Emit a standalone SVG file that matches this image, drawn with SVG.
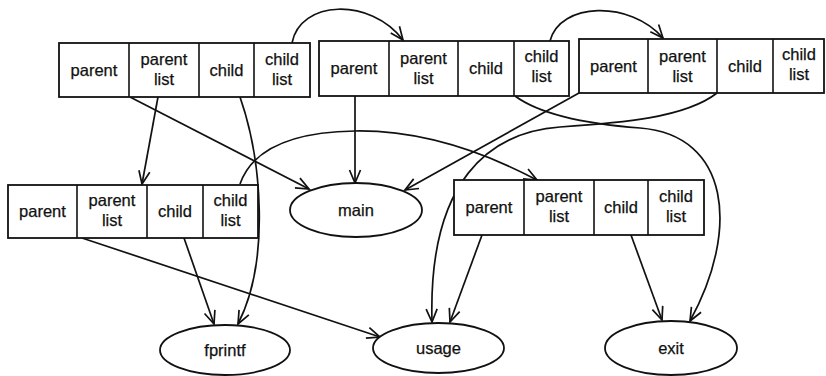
<svg xmlns="http://www.w3.org/2000/svg" width="826" height="376" viewBox="0 0 826 376">
  <defs>
    <style>
      .box { fill: #fff; stroke: #111; stroke-width: 1.8; }
      .div { stroke: #111; stroke-width: 1.6; }
      .ell { fill: #fff; stroke: #111; stroke-width: 1.8; }
      .lbl { font-family: "Liberation Sans", Arial, sans-serif; font-size: 16.5px; fill: #111; stroke: #111; stroke-width: 0.25; text-anchor: middle; }
      .edge { fill: none; stroke: #111; stroke-width: 1.7; marker-end: url(#arr); }
    </style>
    <marker id="arr" markerUnits="userSpaceOnUse" markerWidth="16" markerHeight="14" viewBox="-14 -7 16 14" refX="0" refY="0" orient="auto">
      <path d="M-13,-5.5 L0,0 L-13,5.5" fill="none" stroke="#111" stroke-width="1.7"/>
    </marker>
  </defs>
  <rect width="826" height="376" fill="#fff"/>

  <!-- connectors -->
  <g id="connectors">
    <!-- record 1 -->
    <path class="edge" d="M292,43 C300,0 370,-3 403,40"/>
    <path class="edge" d="M158,97 L142,184"/>
    <path class="edge" d="M130,97 L309,189"/>
    <path class="edge" d="M240,97 C262,160 270,262 238,324"/>
    <!-- record 2 -->
    <path class="edge" d="M355,96 L355,183"/>
    <path class="edge" d="M550,41 C560,2 630,0 663,38"/>
    <path class="edge" d="M515,96 C545,118 600,125 640,128 C730,135 740,230 690,321"/>
    <!-- record 3 -->
    <path class="edge" d="M579,93 L405,190"/>
    <path class="edge" d="M717,93 C685,118 620,123 560,127 C490,132 428,180 432,322"/>
    <!-- record 4 -->
    <path class="edge" d="M240,184 C252,150 290,132 355,131 C420,130 480,150 537,180"/>
    <path class="edge" d="M184,238 L214,324"/>
    <path class="edge" d="M82,238 L380,337"/>
    <!-- record 5 -->
    <path class="edge" d="M482,235 L450,322"/>
    <path class="edge" d="M631,235 L662,320"/>
  </g>

  <!-- record nodes -->
  <g id="rec1">
    <rect class="box" x="59" y="43" width="251" height="54"/>
    <line class="div" x1="129" y1="43" x2="129" y2="97"/>
    <line class="div" x1="199" y1="43" x2="199" y2="97"/>
    <line class="div" x1="254" y1="43" x2="254" y2="97"/>
    <text class="lbl" x="94" y="75.5">parent</text>
    <text class="lbl" x="164" y="65">parent</text>
    <text class="lbl" x="164" y="85">list</text>
    <text class="lbl" x="226.5" y="75.5">child</text>
    <text class="lbl" x="282" y="65">child</text>
    <text class="lbl" x="282" y="85">list</text>
  </g>
  <g id="rec2">
    <rect class="box" x="319" y="41" width="250" height="55"/>
    <line class="div" x1="389" y1="41" x2="389" y2="96"/>
    <line class="div" x1="458" y1="41" x2="458" y2="96"/>
    <line class="div" x1="514" y1="41" x2="514" y2="96"/>
    <text class="lbl" x="354" y="74">parent</text>
    <text class="lbl" x="423.5" y="64">parent</text>
    <text class="lbl" x="423.5" y="84">list</text>
    <text class="lbl" x="486" y="74">child</text>
    <text class="lbl" x="541.5" y="62">child</text>
    <text class="lbl" x="541.5" y="82">list</text>
  </g>
  <g id="rec3">
    <rect class="box" x="579" y="39" width="245" height="54"/>
    <line class="div" x1="648" y1="39" x2="648" y2="93"/>
    <line class="div" x1="717" y1="39" x2="717" y2="93"/>
    <line class="div" x1="773" y1="39" x2="773" y2="93"/>
    <text class="lbl" x="613.5" y="71.5">parent</text>
    <text class="lbl" x="682.5" y="62">parent</text>
    <text class="lbl" x="682.5" y="82">list</text>
    <text class="lbl" x="745" y="71.5">child</text>
    <text class="lbl" x="799" y="60">child</text>
    <text class="lbl" x="799" y="80">list</text>
  </g>
  <g id="rec4">
    <rect class="box" x="8" y="185" width="250" height="53"/>
    <line class="div" x1="77" y1="185" x2="77" y2="238"/>
    <line class="div" x1="147" y1="185" x2="147" y2="238"/>
    <line class="div" x1="203" y1="185" x2="203" y2="238"/>
    <text class="lbl" x="42.5" y="217">parent</text>
    <text class="lbl" x="112" y="206">parent</text>
    <text class="lbl" x="112" y="226">list</text>
    <text class="lbl" x="175" y="217">child</text>
    <text class="lbl" x="230.5" y="206">child</text>
    <text class="lbl" x="230.5" y="226">list</text>
  </g>
  <g id="rec5">
    <rect class="box" x="454" y="180" width="250" height="55"/>
    <line class="div" x1="524" y1="180" x2="524" y2="235"/>
    <line class="div" x1="594" y1="180" x2="594" y2="235"/>
    <line class="div" x1="648" y1="180" x2="648" y2="235"/>
    <text class="lbl" x="489" y="213">parent</text>
    <text class="lbl" x="559" y="202">parent</text>
    <text class="lbl" x="559" y="222">list</text>
    <text class="lbl" x="621" y="213">child</text>
    <text class="lbl" x="676" y="202">child</text>
    <text class="lbl" x="676" y="222">list</text>
  </g>

  <!-- function nodes -->
  <g id="main">
    <ellipse class="ell" cx="356" cy="210" rx="66" ry="27"/>
    <text class="lbl" x="356" y="216">main</text>
  </g>
  <g id="fprintf">
    <ellipse class="ell" cx="225" cy="350" rx="65" ry="25"/>
    <text class="lbl" x="225" y="356">fprintf</text>
  </g>
  <g id="usage">
    <ellipse class="ell" cx="438.5" cy="348" rx="65.5" ry="25"/>
    <text class="lbl" x="438.5" y="354">usage</text>
  </g>
  <g id="exit">
    <ellipse class="ell" cx="671" cy="348" rx="66" ry="27"/>
    <text class="lbl" x="671" y="354">exit</text>
  </g>
</svg>
